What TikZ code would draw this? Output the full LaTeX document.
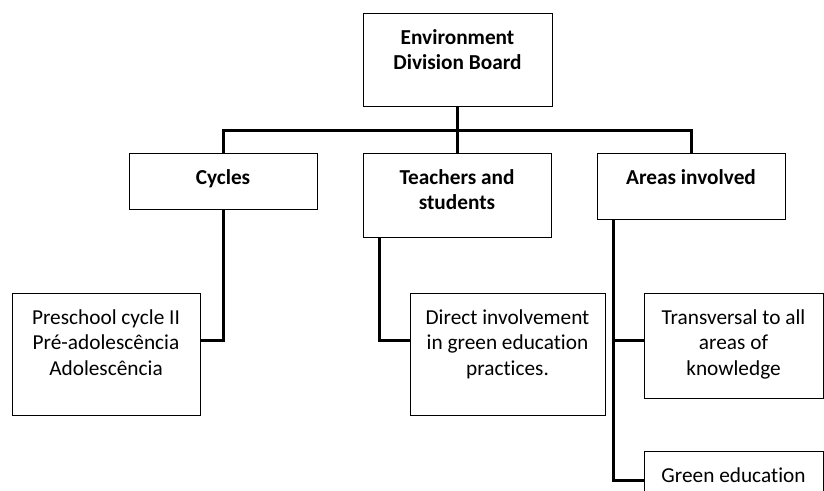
\documentclass[tikz,border=0pt]{standalone}
\usepackage{fontspec}
\setmainfont[Ligatures=NoCommon]{Carlito}
\begin{document}
\begin{tikzpicture}[x=1pt,y=-1pt,
  box/.style={draw, line width=0.8pt, rectangle, inner sep=0pt},
  txt/.style={anchor=north, inner sep=0pt, align=center, font=\fontsize{21.3}{25.7}\selectfont},
  btxt/.style={txt, font=\fontsize{21.3}{25.7}\selectfont\bfseries},
  conn/.style={line width=3pt}]
\useasboundingbox (0,0) rectangle (824,490);
\clip (0,0) rectangle (824,490);
% boxes
\node[box, minimum width=189pt, minimum height=93pt] (top) at (457.5,59.5) {};
\node[box, minimum width=188pt, minimum height=56pt] (cyc) at (223,181) {};
\node[box, minimum width=188pt, minimum height=84pt] (teach) at (457,195) {};
\node[box, minimum width=188pt, minimum height=66pt] (areas) at (691,186) {};
\node[box, minimum width=188pt, minimum height=122pt] (pre) at (106,354) {};
\node[box, minimum width=195pt, minimum height=122pt] (dir) at (507.5,354) {};
\node[box, minimum width=179pt, minimum height=105pt] (trans) at (733.5,345.5) {};
\node[box, minimum width=179pt, minimum height=122pt] (green) at (733.5,512) {};
% texts
\node[btxt] (topt) at ([yshift=-13.5pt]top.north) {\strut Environment\\Division Board};
\node[btxt] (cyct) at ([yshift=-13.5pt]cyc.north) {\strut Cycles};
\node[btxt] (teacht) at ([yshift=-13.5pt]teach.north) {\strut Teachers and\\students};
\node[btxt] (areast) at ([yshift=-13.5pt]areas.north) {\strut Areas involved};
\node[txt] (pret) at ([yshift=-13.5pt]pre.north) {\strut Preschool cycle II\\Pré-adolescência\\Adolescência};
\node[txt] (dirt) at ([yshift=-13.5pt]dir.north) {\strut Direct involvement\\in green education\\practices.};
\node[txt] (transt) at ([yshift=-13.5pt]trans.north) {\strut Transversal to all\\areas of\\knowledge};
\node[txt] (greent) at ([yshift=-13.5pt]green.north) {\strut Green education};
% connectors
\coordinate (bus) at (457,130);
\coordinate (lvl) at (0,340);
\coordinate (lvl2) at (0,480);
\coordinate (tv) at ([xshift=-78pt]teach.south);
\coordinate (av) at ([xshift=17pt]areas.south west);
\draw[conn] (top.south) -- (top.south |- bus);
\draw[conn] (cyc.north) |- (areas.north |- bus) -- (areas.north);
\draw[conn] (teach.north) -- (teach.north |- bus);
\draw[conn] (cyc.south) |- (pre.east |- lvl);
\draw[conn] (tv) |- (dir.west |- lvl);
\draw[conn] (av) |- (green.west |- lvl2);
\draw[conn] (av |- lvl) -- (trans.west |- lvl);
\end{tikzpicture}
\end{document}
